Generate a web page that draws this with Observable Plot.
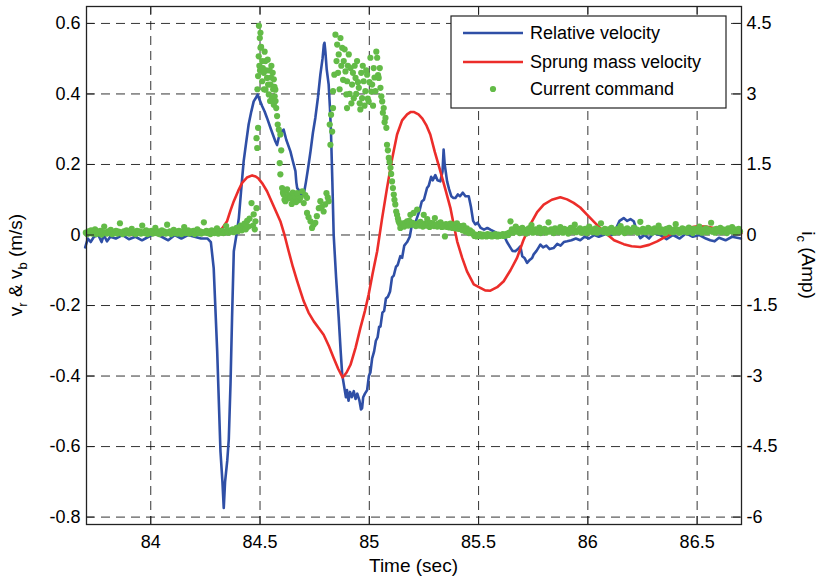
<!DOCTYPE html>
<html>
<head>
<meta charset="utf-8">
<script src="https://cdn.jsdelivr.net/npm/d3@7"></script>
<script src="https://cdn.jsdelivr.net/npm/@observablehq/plot@0.6"></script>
<style>
  html, body { margin: 0; padding: 0; background: #fff; }
  #chart { width: 821px; height: 579px; }
</style>
</head>
<body>
<div id="chart"></div>
<script>
// ---------- data ----------
const xTicks = [84, 84.5, 85, 85.5, 86, 86.5];
const yTicks = [-0.8, -0.6, -0.4, -0.2, 0, 0.2, 0.4, 0.6];
const ampTicks = [-6, -4.5, -3, -1.5, 0, 1.5, 3, 4.5];
const seriesNames = ["Relative velocity", "Sprung mass velocity", "Current command"];

// Relative velocity [time (s), m/s]
const relativeVelocity = [
[83.700,-0.035],[83.712,-0.01],[83.725,-0.02],[83.74,-0.005],[83.76,0.0],[83.775,-0.02],[83.785,0.0],[83.80,-0.018],
[83.815,-0.005],[83.84,-0.01],[83.87,0.0],[83.90,-0.012],[83.93,-0.005],[83.96,-0.015],[83.99,-0.005],[84.02,0.005],
[84.05,-0.005],[84.08,-0.015],[84.11,0.0],[84.14,-0.01],[84.17,0.0],[84.20,-0.005],[84.23,-0.01],[84.26,-0.01],
[84.275,-0.02],[84.288,-0.094],[84.304,-0.33],[84.319,-0.614],[84.328,-0.70],[84.334,-0.774],[84.340,-0.70],[84.350,-0.64],
[84.357,-0.58],[84.361,-0.50],[84.365,-0.42],[84.372,-0.235],[84.380,-0.046],[84.392,0.0],[84.403,0.048],[84.414,0.13],
[84.425,0.209],[84.436,0.26],[84.448,0.314],[84.460,0.35],[84.471,0.379],[84.482,0.39],[84.489,0.398],[84.497,0.385],
[84.510,0.365],[84.521,0.35],[84.532,0.332],[84.550,0.30],[84.570,0.266],[84.578,0.255],[84.585,0.275],[84.595,0.29],
[84.608,0.299],[84.62,0.27],[84.639,0.237],[84.650,0.21],[84.662,0.181],[84.666,0.15],[84.670,0.133],[84.680,0.125],
[84.690,0.11],[84.700,0.115],[84.710,0.15],[84.720,0.19],[84.731,0.237],[84.742,0.29],[84.753,0.332],[84.765,0.39],
[84.776,0.455],[84.786,0.50],[84.792,0.54],[84.795,0.545],[84.799,0.52],[84.805,0.47],[84.814,0.427],[84.820,0.36],
[84.825,0.285],[84.831,0.15],[84.837,0.0],[84.848,-0.12],[84.860,-0.235],[84.869,-0.33],[84.876,-0.396],[84.885,-0.43],
[84.893,-0.46],[84.898,-0.44],[84.905,-0.47],[84.912,-0.445],[84.920,-0.46],[84.929,-0.443],[84.937,-0.465],[84.945,-0.45],
[84.955,-0.47],[84.962,-0.495],[84.967,-0.491],[84.972,-0.46],[84.980,-0.45],[84.990,-0.44],[84.998,-0.40],[85.005,-0.39],
[85.013,-0.35],[85.022,-0.33],[85.03,-0.30],[85.038,-0.29],[85.045,-0.26],[85.051,-0.26],[85.06,-0.22],[85.068,-0.215],
[85.076,-0.18],[85.085,-0.175],[85.095,-0.16],[85.104,-0.12],[85.112,-0.115],[85.122,-0.09],[85.13,-0.085],[85.142,-0.06],
[85.150,-0.065],[85.160,-0.03],[85.173,-0.02],[85.185,-0.005],[85.195,0.03],[85.205,0.025],[85.219,0.05],[85.23,0.07],
[85.24,0.095],[85.25,0.10],[85.264,0.133],[85.272,0.14],[85.283,0.165],[85.290,0.155],[85.302,0.17],[85.312,0.155],
[85.325,0.152],[85.335,0.18],[85.340,0.242],[85.345,0.2],[85.356,0.152],[85.365,0.13],[85.375,0.11],[85.385,0.105],
[85.394,0.105],[85.405,0.115],[85.415,0.11],[85.428,0.12],[85.440,0.11],[85.455,0.11],[85.465,0.08],[85.475,0.04],
[85.485,0.03],[85.495,0.035],[85.510,0.02],[85.525,0.015],[85.540,0.02],[85.554,0.015],[85.570,0.01],[85.585,0.005],
[85.600,0.0],[85.615,0.0],[85.630,-0.02],[85.645,-0.035],[85.655,-0.045],[85.668,-0.046],[85.680,-0.04],[85.691,-0.032],
[85.700,-0.06],[85.710,-0.065],[85.722,-0.079],[85.735,-0.07],[85.745,-0.065],[85.752,-0.055],[85.765,-0.045],[85.775,-0.035],
[85.783,-0.027],[85.795,-0.035],[85.81,-0.03],[85.825,-0.04],[85.843,-0.037],[85.86,-0.025],[85.875,-0.03],[85.89,-0.02],
[85.905,-0.018],[85.925,-0.015],[85.945,-0.01],[85.965,-0.015],[85.985,-0.005],[86.005,-0.01],[86.03,0.0],[86.05,-0.005],
[86.07,0.0],[86.088,0.005],[86.11,0.0],[86.13,0.02],[86.145,0.04],[86.164,0.048],[86.18,0.04],[86.195,0.045],
[86.21,0.039],[86.225,0.01],[86.24,-0.009],[86.26,0.0],[86.28,-0.01],[86.30,0.005],[86.33,0.0],[86.36,-0.012],
[86.39,0.0],[86.42,-0.01],[86.45,0.005],[86.48,-0.005],[86.51,0.0],[86.54,-0.01],[86.56,-0.015],[86.58,-0.018],
[86.60,-0.008],[86.63,-0.015],[86.66,-0.005],[86.70,-0.01]
];

// Sprung mass velocity [time (s), m/s]
const sprungVelocity = [
[83.706,0.0],[83.75,0.003],[83.816,0.005],[83.86,0.002],[83.907,0.0],[83.96,0.003],[84.044,0.0],[84.10,0.002],
[84.182,0.002],[84.24,0.003],[84.296,0.005],[84.328,0.02],[84.349,0.039],[84.365,0.07],[84.380,0.096],[84.400,0.125],
[84.418,0.148],[84.440,0.163],[84.464,0.169],[84.480,0.166],[84.493,0.16],[84.512,0.145],[84.532,0.124],[84.560,0.085],
[84.593,0.039],[84.612,0.0],[84.631,-0.046],[84.650,-0.09],[84.670,-0.131],[84.685,-0.16],[84.700,-0.188],[84.722,-0.22],
[84.746,-0.245],[84.770,-0.265],[84.791,-0.283],[84.815,-0.315],[84.837,-0.349],[84.858,-0.38],[84.878,-0.404],[84.896,-0.39],
[84.914,-0.368],[84.937,-0.32],[84.959,-0.264],[84.980,-0.215],[84.997,-0.169],[85.015,-0.11],[85.036,-0.046],[85.058,0.045],
[85.081,0.133],[85.104,0.215],[85.127,0.285],[85.150,0.325],[85.173,0.342],[85.190,0.349],[85.203,0.349],[85.225,0.342],
[85.243,0.33],[85.262,0.31],[85.279,0.285],[85.300,0.235],[85.325,0.181],[85.350,0.125],[85.371,0.077],[85.386,0.03],
[85.402,-0.018],[85.425,-0.065],[85.447,-0.103],[85.478,-0.14],[85.508,-0.150],[85.530,-0.157],[85.554,-0.158],[85.585,-0.148],
[85.615,-0.131],[85.646,-0.1],[85.676,-0.065],[85.705,-0.015],[85.737,0.03],[85.768,0.065],[85.798,0.086],[85.835,0.1],
[85.874,0.107],[85.905,0.101],[85.935,0.091],[85.965,0.078],[85.996,0.058],[86.035,0.033],[86.072,0.01],[86.12,-0.015],
[86.164,-0.026],[86.2,-0.032],[86.240,-0.034],[86.28,-0.028],[86.317,-0.018],[86.355,-0.005],[86.393,0.006],[86.44,0.018],
[86.500,0.025],[86.54,0.024],[86.576,0.02],[86.64,0.012],[86.703,0.005]
];

// Current command, quiet stretch before the bump [time (s), Amp]
const currentBefore = [
[83.703,.05],[83.709,.02],[83.715,.08],[83.721,.04],[83.727,.1],[83.733,.03],[83.739,.06],[83.745,.12],[83.751,.02],[83.757,.07],
[83.763,.04],[83.769,.09],[83.775,.01],[83.781,.06],[83.787,.18],[83.793,.05],[83.799,.03],[83.805,.08],[83.811,.05],[83.817,.11],
[83.823,.02],[83.829,.06],[83.835,.04],[83.841,.09],[83.847,.03],[83.853,.07],[83.859,.25],[83.865,.05],[83.871,.02],[83.877,.08],
[83.883,.04],[83.889,.1],[83.895,.06],[83.901,.03],[83.907,.07],[83.913,.13],[83.919,.04],[83.925,.06],[83.931,.02],[83.937,.09],
[83.943,.05],[83.949,.08],[83.955,.03],[83.961,.2],[83.967,.06],[83.973,.04],[83.979,.1],[83.985,.02],[83.991,.07],[83.997,.05],
[84.003,.09],[84.009,.03],[84.015,.06],[84.021,.15],[84.027,.04],[84.033,.08],[84.039,.02],[84.045,.06],[84.051,.1],[84.057,.04],
[84.063,.07],[84.069,.03],[84.075,.22],[84.081,.05],[84.087,.08],[84.093,.02],[84.099,.06],[84.105,.11],[84.111,.04],[84.117,.07],
[84.123,.03],[84.129,.09],[84.135,.05],[84.141,.02],[84.147,.08],[84.153,.17],[84.159,.04],[84.165,.06],[84.171,.1],[84.177,.03],
[84.183,.07],[84.189,.05],[84.195,.09],[84.201,.02],[84.207,.06],[84.213,.12],[84.219,.04],[84.225,.08],[84.231,.03],[84.237,.06],
[84.243,.27],[84.249,.05],[84.255,.09],[84.261,.04],[84.267,.07],[84.273,.02],[84.279,.1],[84.285,.06],[84.291,.04],[84.297,.08],
[84.303,.14],[84.309,.03],[84.315,.07],[84.321,.05],[84.327,.09],[84.333,.04],[84.339,.06],[84.345,.19],[84.351,.08],[84.357,.05],
[84.363,.1],[84.369,.07],[84.375,.12],[84.381,.06],[84.387,.09],[84.393,.15],[84.399,.08],[84.405,.11],[84.411,.2],[84.417,.1],
[84.423,.14],[84.429,.24],[84.435,.12],[84.441,.3],[84.447,.18]
];

// Current command, active stretch [time (s), Amp]
const currentActive = [
[84.452,.35],[84.461,.68],[84.468,.2],[84.471,.44],[84.476,.12],[84.479,.29],[84.484,.57],[84.484,2.06],[84.487,1.85],[84.491,2.28],
[84.488,3.1],[84.491,3.38],[84.494,3.80],[84.495,4.45],[84.497,3.6],[84.499,4.19],[84.5,3.5],[84.502,4.30],[84.502,3.98],[84.505,4.0],
[84.510,3.70],[84.510,3.27],[84.513,3.55],[84.517,3.45],[84.518,3.1],[84.521,3.9],[84.525,3.70],[84.525,3.09],[84.528,3.5],[84.532,3.34],
[84.535,3.73],[84.537,3.2],[84.540,2.99],[84.544,3.5],[84.546,2.85],[84.548,3.2],[84.55,3.35],[84.552,3.6],[84.555,2.91],[84.558,3.45],
[84.560,3.1],[84.563,3.31],[84.563,2.77],[84.566,3.15],[84.567,2.95],[84.570,3.09],[84.571,2.85],[84.574,2.70],[84.578,2.53],[84.581,2.35],
[84.586,2.24],[84.590,1.53],[84.593,2.14],[84.593,1.29],[84.597,1.8],[84.601,1.0],[84.605,0.9],[84.608,0.86],[84.612,0.75],[84.616,0.72],
[84.620,0.95],[84.624,0.97],[84.628,0.78],[84.632,0.85],[84.639,0.79],[84.645,0.66],[84.650,0.9],[84.654,0.72],[84.660,0.82],[84.665,0.7],
[84.670,0.89],[84.677,0.74],[84.685,0.79],[84.693,0.93],[84.700,0.68],[84.707,0.85],[84.715,0.79],[84.715,0.47],[84.722,0.38],[84.731,0.29],
[84.738,0.15],[84.745,0.22],[84.753,0.26],[84.760,0.4],[84.769,0.57],[84.776,0.72],[84.783,0.6],[84.791,0.5],[84.798,0.65],[84.804,0.89],
[84.810,0.8],[84.814,0.72],[84.819,2.35],[84.822,1.92],[84.825,2.56],[84.830,2.2],[84.834,2.70],[84.834,3.06],[84.840,3.41],[84.845,4.26],
[84.850,3.7],[84.853,4.05],[84.857,3.45],[84.860,3.84],[84.864,3.1],[84.868,4.19],[84.872,3.6],[84.876,3.98],[84.880,3.3],[84.883,3.70],
[84.887,3.95],[84.891,3.48],[84.895,2.99],[84.898,3.27],[84.898,2.70],[84.902,3.6],[84.906,3.84],[84.910,3.0],[84.914,3.55],[84.918,2.8],
[84.921,3.20],[84.925,3.45],[84.929,2.91],[84.933,3.6],[84.937,3.34],[84.940,3.0],[84.944,3.70],[84.948,3.25],[84.952,3.13],[84.956,2.8],
[84.959,2.67],[84.963,3.45],[84.967,2.91],[84.970,3.6],[84.974,3.27],[84.978,2.75],[84.982,3.06],[84.986,3.5],[84.990,3.41],[84.993,2.9],
[84.997,2.84],[85.001,3.25],[85.005,3.77],[85.009,3.05],[85.013,3.20],[85.017,2.75],[85.020,3.55],[85.024,3.35],[85.028,3.06],[85.032,3.9],
[85.036,3.77],[85.040,3.4],[85.043,3.34],[85.048,3.55],[85.051,3.13],[85.055,2.95],[85.059,2.84],[85.062,2.6],[85.066,2.70],[85.070,2.4],
[85.074,2.49],[85.078,2.28],[85.081,1.92],[85.085,1.8],[85.089,1.64],[85.093,1.55],[85.097,1.43],[85.100,1.3],[85.104,1.14],[85.108,1.0],
[85.112,0.86],[85.115,0.75],[85.119,0.65],[85.123,0.5],[85.127,0.43],[85.131,0.35],[85.134,0.29],[85.138,0.25],[85.142,0.15],[85.146,0.2],
[85.150,0.22],
[85.155,.25],[85.16,.18],[85.166,.26],[85.173,.29],[85.178,.2],[85.183,.3],[85.188,.43],[85.193,.22],[85.198,.26],[85.203,.47],
[85.208,.23],[85.213,.19],[85.219,.54],[85.224,.25],[85.229,.2],[85.234,.28],[85.24,.22],[85.245,.18],[85.249,.43],[85.255,.24],
[85.26,.2],[85.265,.34],[85.27,.23],[85.276,.17],[85.28,.26],[85.286,.21],[85.29,.25],[85.296,.19],[85.3,.36],[85.306,.22],
[85.311,.18],[85.316,.24],[85.321,.2],[85.326,.27],[85.331,.17],[85.336,.22],[85.341,.18],[85.346,-.03],[85.351,.23],[85.356,.17],
[85.361,.21],[85.366,.16],[85.371,.24],[85.376,.19],[85.381,.15],[85.386,.22],[85.391,.18],[85.396,.14],[85.401,.25],[85.406,.16],
[85.411,.13],[85.416,.19],[85.421,.14],[85.426,.1],[85.431,.2],[85.436,.1],[85.441,.07],[85.446,.14],[85.451,.08],[85.456,.04],
[85.461,.1],[85.466,.04],[85.471,.06],
[85.476,.02],[85.481,-.02],[85.486,.01],[85.491,-.03],[85.496,0],[85.501,-.02],[85.506,.02],[85.511,-.01],[85.516,-.03],[85.521,.01],
[85.526,-.02],[85.531,0],[85.536,-.03],[85.541,.02],[85.546,-.01],[85.551,-.02],[85.556,.01],[85.561,-.03],[85.566,0],[85.571,-.02],
[85.576,.02],[85.581,-.01],[85.586,-.03],[85.591,.01],[85.596,-.02],[85.601,0],[85.606,-.01],[85.611,.02],[85.616,-.02],[85.621,.01],
[85.626,-.01],[85.631,.03],[85.636,0],[85.641,.05]
];

// Current command, quiet stretch after the bump [time (s), Amp]
const currentAfter = [
[85.646,.29],[85.652,.12],[85.658,.05],[85.664,.1],[85.670,.18],[85.676,.07],[85.682,.13],[85.688,.04],[85.694,.09],[85.700,.15],
[85.706,.06],[85.712,.11],[85.718,.03],[85.724,.08],[85.730,.14],[85.736,.07],[85.742,.21],[85.748,.05],[85.754,.1],[85.760,.12],
[85.766,.06],[85.772,.09],[85.778,.16],[85.784,.04],[85.790,.11],[85.796,.08],[85.802,.13],[85.808,.05],[85.814,.1],[85.820,.27],
[85.826,.07],[85.832,.12],[85.838,.09],[85.844,.04],[85.850,.14],[85.856,.08],[85.862,.11],[85.868,.06],[85.874,.17],[85.880,.1],
[85.886,.05],[85.892,.13],[85.898,.08],[85.904,.11],[85.910,.03],[85.916,.09],[85.922,.15],[85.928,.07],[85.934,.12],[85.940,.22],
[85.946,.06],[85.952,.1],[85.958,.08],[85.964,.14],[85.970,.05],[85.976,.11],[85.982,.09],[85.988,.13],[85.994,.04],[86.000,.1],
[86.006,.18],[86.012,.07],[86.018,.12],[86.024,.06],[86.030,.09],[86.036,.14],[86.042,.05],[86.048,.11],[86.054,.08],[86.060,.25],
[86.066,.1],[86.072,.06],[86.078,.13],[86.084,.09],[86.090,.04],[86.096,.12],[86.102,.07],[86.108,.15],[86.114,.1],[86.120,.05],
[86.126,.11],[86.132,.08],[86.138,.13],[86.144,.06],[86.150,.19],[86.156,.09],[86.162,.12],[86.168,.04],[86.174,.1],[86.180,.14],
[86.186,.07],[86.192,.11],[86.198,.06],[86.204,.09],[86.210,.16],[86.216,.08],[86.222,.12],[86.228,.05],[86.234,.1],[86.240,.28],
[86.246,.07],[86.252,.13],[86.258,.09],[86.264,.06],[86.270,.11],[86.276,.15],[86.282,.08],[86.288,.12],[86.294,.05],[86.300,.1],
[86.306,.14],[86.312,.07],[86.318,.09],[86.324,.2],[86.330,.06],[86.336,.12],[86.342,.08],[86.348,.11],[86.354,.04],[86.360,.13],
[86.366,.09],[86.372,.15],[86.378,.07],[86.384,.1],[86.390,.06],[86.396,.12],[86.402,.23],[86.408,.08],[86.414,.11],[86.420,.05],
[86.426,.09],[86.432,.14],[86.438,.07],[86.444,.12],[86.450,.1],[86.456,.06],[86.462,.16],[86.468,.08],[86.474,.11],[86.480,.04],
[86.486,.13],[86.492,.09],[86.498,.12],[86.504,.07],[86.510,.18],[86.516,.1],[86.522,.05],[86.528,.11],[86.534,.08],[86.540,.14],
[86.546,.06],[86.552,.12],[86.558,.09],[86.564,.26],[86.570,.07],[86.576,.11],[86.582,.05],[86.588,.13],[86.594,.1],[86.600,.08],
[86.606,.15],[86.612,.06],[86.618,.12],[86.624,.09],[86.630,.11],[86.636,.04],[86.642,.14],[86.648,.08],[86.654,.1],[86.660,.17],
[86.666,.07],[86.672,.12],[86.678,.06],[86.684,.1],[86.690,.13],[86.696,.08]
];

// ---------- chart ----------
const blue = "#2f4fa6", red = "#ec2d2a", green = "#63bb47";
const k = 0.6 / 4.5; // 1 Amp on the right axis corresponds to k m/s on the left axis
const fmt = d => { const r = Math.round(d * 10) / 10; return r === 0 ? "0" : String(r); };

const W = 821, H = 579, mL = 86, mR = 80, mT = 6, mB = 55;
const innerW = W - mL - mR, innerH = H - mT - mB, tickLen = 8;

const rel = relativeVelocity.map(([t, v]) => ({t, v}));
const spr = sprungVelocity.map(([t, v]) => ({t, v}));
const cur = [...currentBefore, ...currentActive, ...currentAfter].map(([t, a]) => ({t, a}));
const gridStyle = {stroke: "#000", strokeOpacity: 0.8, strokeDasharray: "9,6", strokeWidth: 1};

const svg = Plot.plot({
  width: W, height: H,
  marginLeft: mL, marginRight: mR, marginTop: mT, marginBottom: mB,
  style: {fontFamily: "'Liberation Sans', Arial, Helvetica, sans-serif", fontSize: "18px", color: "#000", background: "#fff"},
  x: {domain: [83.706, 86.703]},
  y: {domain: [-0.821, 0.648]},
  marks: [
    Plot.gridX(xTicks, gridStyle),
    Plot.gridY(yTicks, gridStyle),
    Plot.line(rel, {x: "t", y: "v", stroke: blue, strokeWidth: 2.6}),
    Plot.line(spr, {x: "t", y: "v", stroke: red, strokeWidth: 2.6}),
    Plot.dot(cur, {x: "t", y: d => d.a * k, fill: green, r: 3.1}),
    Plot.frame({stroke: "#222", strokeWidth: 1.3}),
    Plot.tickY(yTicks, {stroke: "#222", insetRight: innerW - tickLen}),
    Plot.tickY(yTicks, {stroke: "#222", insetLeft: innerW - tickLen}),
    Plot.tickX(xTicks, {stroke: "#222", insetTop: innerH - tickLen}),
    Plot.tickX(xTicks, {stroke: "#222", insetBottom: innerH - tickLen}),
    Plot.axisX(xTicks, {tickSize: 0, tickPadding: 11, tickFormat: fmt, label: null}),
    Plot.axisY(yTicks, {anchor: "left", tickSize: 0, tickPadding: 6, tickFormat: fmt, label: null}),
    Plot.axisY(ampTicks.map(a => a * k), {anchor: "right", tickSize: 0, tickPadding: 5, tickFormat: d => fmt(d / k), label: null})
  ]
});
document.getElementById("chart").appendChild(svg);

// ---------- axis titles & legend ----------
const s = d3.select(svg);
const ff = "'Liberation Sans', Arial, Helvetica, sans-serif";

s.append("text").attr("x", mL + innerW / 2).attr("y", 572).attr("text-anchor", "middle")
  .attr("font-family", ff).attr("font-size", 19).attr("fill", "#000").text("Time (sec)");

const yl = s.append("text").attr("transform", `translate(22,${mT + innerH / 2}) rotate(-90)`)
  .attr("text-anchor", "middle").attr("font-family", ff).attr("font-size", 19).attr("fill", "#000");
yl.append("tspan").text("v");
yl.append("tspan").attr("dy", 5).attr("font-size", 13).text("r");
yl.append("tspan").attr("dy", -5).text(" & v");
yl.append("tspan").attr("dy", 5).attr("font-size", 13).text("b");
yl.append("tspan").attr("dy", -5).text(" (m/s)");

const yr = s.append("text").attr("transform", `translate(802,${mT + innerH / 2}) rotate(90)`)
  .attr("text-anchor", "middle").attr("font-family", ff).attr("font-size", 19).attr("fill", "#000");
yr.append("tspan").text("i");
yr.append("tspan").attr("dy", 5).attr("font-size", 13).text("c");
yr.append("tspan").attr("dy", -5).text(" (Amp)");

const lg = s.append("g").attr("transform", "translate(451,16)");
lg.append("rect").attr("width", 275).attr("height", 92).attr("fill", "#fff").attr("stroke", "#222").attr("stroke-width", 1.2);
const rows = [
  {name: seriesNames[0], kind: "line", color: blue, y: 17},
  {name: seriesNames[1], kind: "line", color: red, y: 46},
  {name: seriesNames[2], kind: "dot", color: green, y: 73}
];
rows.forEach(r => {
  if (r.kind === "line") {
    lg.append("line").attr("x1", 12).attr("x2", 72).attr("y1", r.y).attr("y2", r.y)
      .attr("stroke", r.color).attr("stroke-width", 2.6);
  } else {
    lg.append("circle").attr("cx", 42).attr("cy", r.y).attr("r", 3.1).attr("fill", r.color);
  }
  lg.append("text").attr("x", 79).attr("y", r.y).attr("dy", "0.35em").attr("text-anchor", "start")
    .attr("font-family", ff).attr("font-size", 18).attr("fill", "#000").text(r.name);
});
</script>
</body>
</html>
